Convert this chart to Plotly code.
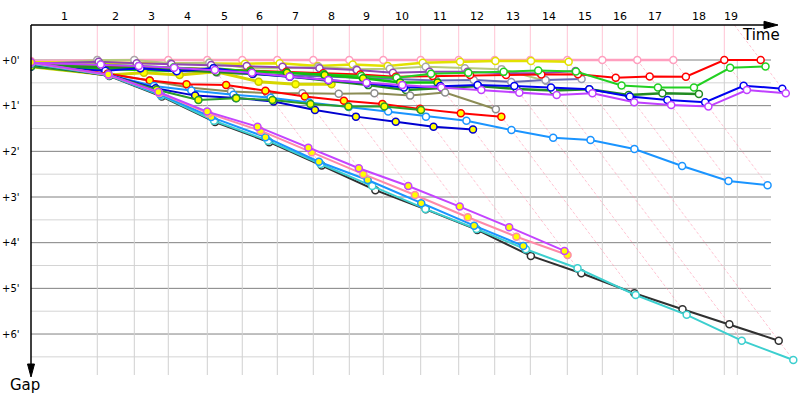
import plotly.graph_objects as go

# ---------------- data ----------------
# leader's lap-line crossing times (minutes) ; index = lap number
lap_times = [0.0, 1.927, 3.003, 3.991, 5.125, 6.142, 7.160, 8.206, 9.253, 10.241,
             11.328, 12.433, 13.480, 14.515, 15.590, 16.608, 17.625, 18.672, 20.154, 21.212]
race_end = 20.532
lap_labels = [str(i) for i in range(1, 20)]
gap_ticks = [0, 1, 2, 3, 4, 5, 6]
gap_tick_labels = ["+0'", "+1'", "+2'", "+3'", "+4'", "+5'", "+6'"]

# gap to leader (minutes) per lap, starting at lap 0
gap_pink = [0.02, 0, 0, 0, 0, 0, 0, 0, 0, 0, 0, 0, 0, 0, 0, 0, 0, 0]
gap_yellow = [0.05, 0.06, 0.06, 0.07, 0.06, 0.08, 0.07, 0.13, 0.10, 0.13, 0.06, 0.04, 0.02, 0.02, 0.04]
gap_khaki = [0.10, 0.0, 0.0, 0.07, 0.06, 0.18, 0.18, 0.15, 0.20, 0.19, 0.147, 0.18, 0.20, 0.46]
gap_purple = [0.08, 0.04, 0.07, 0.09, 0.11, 0.13, 0.15, 0.18, 0.22, 0.28, 0.256, 0.256, 0.29, 0.29, 0.24]
gap_slate = [0.12, 0.18, 0.20, 0.24, 0.28, 0.31, 0.34, 0.37, 0.40, 0.43, 0.45, 0.438, 0.48, 0.44, 0.416]
gap_red = [0.10, 0.12, 0.14, 0.17, 0.20, 0.23, 0.26, 0.29, 0.32, 0.365, 0.35, 0.33, 0.33, 0.32, 0.31,
           0.39, 0.36, 0.365, 0.0, 0.0]
gap_green = [0.12, 0.10, 0.13, 0.16, 0.20, 0.24, 0.28, 0.31, 0.35, 0.39, 0.30, 0.28, 0.26, 0.23, 0.25,
             0.56, 0.60, 0.60, 0.17, 0.14]
gap_green_y = [0.14, 0.20, 0.22, 0.24, 0.18, 0.256, 0.28, 0.33, 0.40, 0.49, 0.49]
gap_gold = [0.15, 0.33, 0.28, 0.33, 0.256, 0.475, 0.53, 0.53]
gap_blue = [0.15, 0.234, 0.18, 0.247, 0.18, 0.30, 0.366, 0.438, 0.51, 0.60, 0.57, 0.55, 0.57, 0.60, 0.64,
            0.80, 0.876, 0.926, 0.563, 0.628]
gap_dkgreen = [0.12, 0.15, 0.18, 0.22, 0.26, 0.30, 0.36, 0.45, 0.55, 0.657, 0.62, 0.57, 0.635, 0.67, 0.64,
               0.766, 0.73, 0.744]
gap_violet = [0.06, 0.10, 0.13, 0.17, 0.22, 0.28, 0.36, 0.44, 0.50, 0.55, 0.60, 0.657, 0.716, 0.766, 0.73,
              0.926, 0.985, 1.02, 0.657, 0.73]
gap_olive = [0.10, 0.30, 0.45, 0.60, 0.69, 0.72, 0.73, 0.74, 0.73, 0.78, 0.71, 1.08]
gap_red2 = [0.10, 0.30, 0.45, 0.53, 0.547, 0.672, 0.80, 0.89, 0.963, 1.07, 1.167, 1.24]
gap_sky = [0.08, 0.32, 0.57, 0.67, 0.76, 0.825, 0.93, 1.03, 1.13, 1.24, 1.33, 1.533, 1.70, 1.75, 1.95,
           2.32, 2.65, 2.74]
gap_blue2 = [0.12, 0.32, 0.62, 0.78, 0.83, 0.91, 1.095, 1.24, 1.35, 1.46, 1.52]
gap_green2 = [0.14, 0.33, 0.65, 0.876, 0.84, 0.876, 0.963, 1.02, 1.02, 1.095]
gap_violet2 = [0.05, 0.32, 0.70, 1.13, 1.46, 1.92, 2.37, 2.76, 3.21, 3.66, 4.18]
gap_pink2 = [0.06, 0.33, 0.72, 1.17, 1.548, 2.02, 2.50, 2.956, 3.444, 3.87, 4.27]
gap_sky2 = [0.07, 0.33, 0.75, 1.25, 1.69, 2.227, 2.628, 3.138, 3.628, 4.07]
gap_turq = [0.08, 0.34, 0.78, 1.33, 1.767, 2.277, 2.76, 3.26, 3.70, 4.145, 4.56, 5.145, 5.58, 6.146, 6.57]
gap_black = [0.09, 0.35, 0.80, 1.36, 1.80, 2.31, 2.85, 3.27, 3.72, 4.29, 4.67, 5.108, 5.459, 5.787, 6.146]

WHITE, YEL = "#ffffff", "#ffff00"
series = [
    # (gaps, line colour, marker fill, marker outline, line width)
    (gap_pink, "#ff9fbf", WHITE, "#ff9fbf", 2.5),
    (gap_yellow, "#e2e200", WHITE, "#e2e200", 2.5),
    (gap_khaki, "#b6c97c", WHITE, "#a8a8a8", 2),
    (gap_purple, "#9146b4", WHITE, "#9146b4", 2),
    (gap_slate, "#6767b5", WHITE, "#9a9ab0", 2),
    (gap_red, "#ff0000", WHITE, "#ff0000", 2),
    (gap_green, "#22d022", WHITE, "#22d022", 2),
    (gap_green_y, "#10c010", YEL, "#10a010", 2.5),
    (gap_gold, "#d6d600", YEL, "#c8c800", 3),
    (gap_dkgreen, "#228b22", WHITE, "#228b22", 2.5),
    (gap_blue, "#0000f0", WHITE, "#0000f0", 2),
    (gap_violet, "#c040ff", WHITE, "#c040ff", 2),
    (gap_olive, "#8c8c55", WHITE, "#8c8c8c", 2),
    (gap_red2, "#ff0000", YEL, "#ff0000", 2),
    (gap_sky, "#1a94ff", WHITE, "#1a94ff", 2),
    (gap_blue2, "#0000d0", YEL, "#0000d0", 2),
    (gap_green2, "#2a9d2a", YEL, "#2a9d2a", 2),
    (gap_black, "#303030", WHITE, "#303030", 2),
    (gap_turq, "#3ccfcf", WHITE, "#3ccfcf", 2),
    (gap_sky2, "#1a94ff", YEL, "#1a94ff", 2),
    (gap_pink2, "#ff8aa8", YEL, "#ff8aa8", 2),
    (gap_violet2, "#c444ff", YEL, "#c444ff", 2),
]

# ---------------- pixel mapping (layout only) ----------------
W, H = 800, 400
X0, KX = 31, 34.4     # px of time 0, px per minute
Y0, KY = 60, 45.67    # px of gap 0, px per minute


def xd(px):
    return (px - X0) / KX


def yd(py):
    return (py - Y0) / KY


TOP = yd(25)
GRID_BOTTOM = yd(375)
GRID_RIGHT = xd(771)

fig = go.Figure()
shapes = []

# horizontal grid
g = 0.0
while g <= 6.51:
    major = abs(g - round(g)) < 1e-6
    shapes.append(dict(type="line", xref="x", yref="y", x0=0, x1=GRID_RIGHT, y0=g, y1=g,
                       line=dict(color="#808080" if major else "#d4d4d4", width=1), layer="below"))
    g += 0.5

# vertical grid at lap lines
vlines = lap_times[1:19] + [race_end]
for t in vlines:
    shapes.append(dict(type="line", xref="x", yref="y", x0=t, x1=t, y0=0, y1=GRID_BOTTOM,
                       line=dict(color="#d0d0d0", width=1), layer="below"))
for t in lap_times[1:19]:
    shapes.append(dict(type="line", xref="x", yref="y", x0=t, x1=t, y0=TOP, y1=0,
                       line=dict(color="#ffc4d4", width=1), layer="below"))

# lapping diagonals: lap line n, down to the last car on that lap
max_gap = {}
for s in series:
    for lap, gp in enumerate(s[0]):
        if lap > 0:
            max_gap[lap] = max(max_gap.get(lap, 0), gp)
for lap in range(1, len(lap_times)):
    t = lap_times[lap]
    g1 = max_gap.get(lap, 0)
    g0 = 0 if lap < 19 else TOP
    shapes.append(dict(type="line", xref="x", yref="y", x0=t + g0, x1=t + g1, y0=g0, y1=g1,
                       line=dict(color="rgba(255,150,175,0.55)", width=1, dash="3px,2px"), layer="below"))

# series
for gaps, col, fill, outl, lw in series:
    xs = [lap_times[lap] + (gp if lap > 0 else 0) for lap, gp in enumerate(gaps)]
    fig.add_trace(go.Scatter(
        x=xs, y=gaps, mode="lines+markers",
        line=dict(color=col, width=lw),
        marker=dict(size=7, color=fill, line=dict(color=outl, width=1.5)),
        hoverinfo="skip", showlegend=False, cliponaxis=False))

# left cover (clips the start markers at the gap axis)
shapes.append(dict(type="rect", xref="x", yref="y", x0=xd(0), x1=xd(30.5), y0=yd(0), y1=yd(400),
                   line=dict(width=0), fillcolor="white", layer="above"))
# axes
shapes.append(dict(type="line", xref="x", yref="y", x0=0, x1=xd(767), y0=TOP, y1=TOP,
                   line=dict(color="black", width=1.5), layer="above"))
shapes.append(dict(type="line", xref="x", yref="y", x0=0, x1=0, y0=TOP, y1=yd(367),
                   line=dict(color="black", width=1.5), layer="above"))
shapes.append(dict(type="path", xref="x", yref="y", layer="above",
                   path=f"M {xd(764)},{yd(21.3)} L {xd(778)},{yd(25)} L {xd(764)},{yd(28.7)} Z",
                   fillcolor="black", line=dict(color="black", width=1)))
shapes.append(dict(type="path", xref="x", yref="y", layer="above",
                   path=f"M {xd(27.5)},{yd(364)} L {xd(31)},{yd(377)} L {xd(34.5)},{yd(364)} Z",
                   fillcolor="black", line=dict(color="black", width=1)))

annotations = []
bounds = lap_times[0:19] + [race_end]
for i, lab in enumerate(lap_labels):
    annotations.append(dict(x=(bounds[i] + bounds[i + 1]) / 2, y=yd(16.5), xref="x", yref="y",
                            text=lab, showarrow=False,
                            font=dict(family="DejaVu Sans", size=11, color="black")))
for gv, lab in zip(gap_ticks, gap_tick_labels):
    annotations.append(dict(x=xd(22), y=gv, xref="x", yref="y", text=lab, showarrow=False,
                            xanchor="right", font=dict(family="DejaVu Sans", size=10, color="black")))
annotations.append(dict(x=xd(761), y=yd(35), xref="x", yref="y", text="Time", showarrow=False,
                        font=dict(family="DejaVu Sans", size=15, color="black")))
annotations.append(dict(x=xd(25), y=yd(385), xref="x", yref="y", text="Gap", showarrow=False,
                        font=dict(family="DejaVu Sans", size=15, color="black")))

fig.update_layout(
    width=W, height=H, margin=dict(l=0, r=0, t=0, b=0, pad=0),
    paper_bgcolor="white", plot_bgcolor="white",
    xaxis=dict(range=[xd(0), xd(W)], visible=False, fixedrange=True),
    yaxis=dict(range=[yd(H), yd(0)], visible=False, fixedrange=True),
    shapes=shapes, annotations=annotations, showlegend=False,
)

fig.write_html("out.html", config={"displayModeBar": False},
               post_script="document.body.style.margin='0';document.body.style.overflow='hidden';")
